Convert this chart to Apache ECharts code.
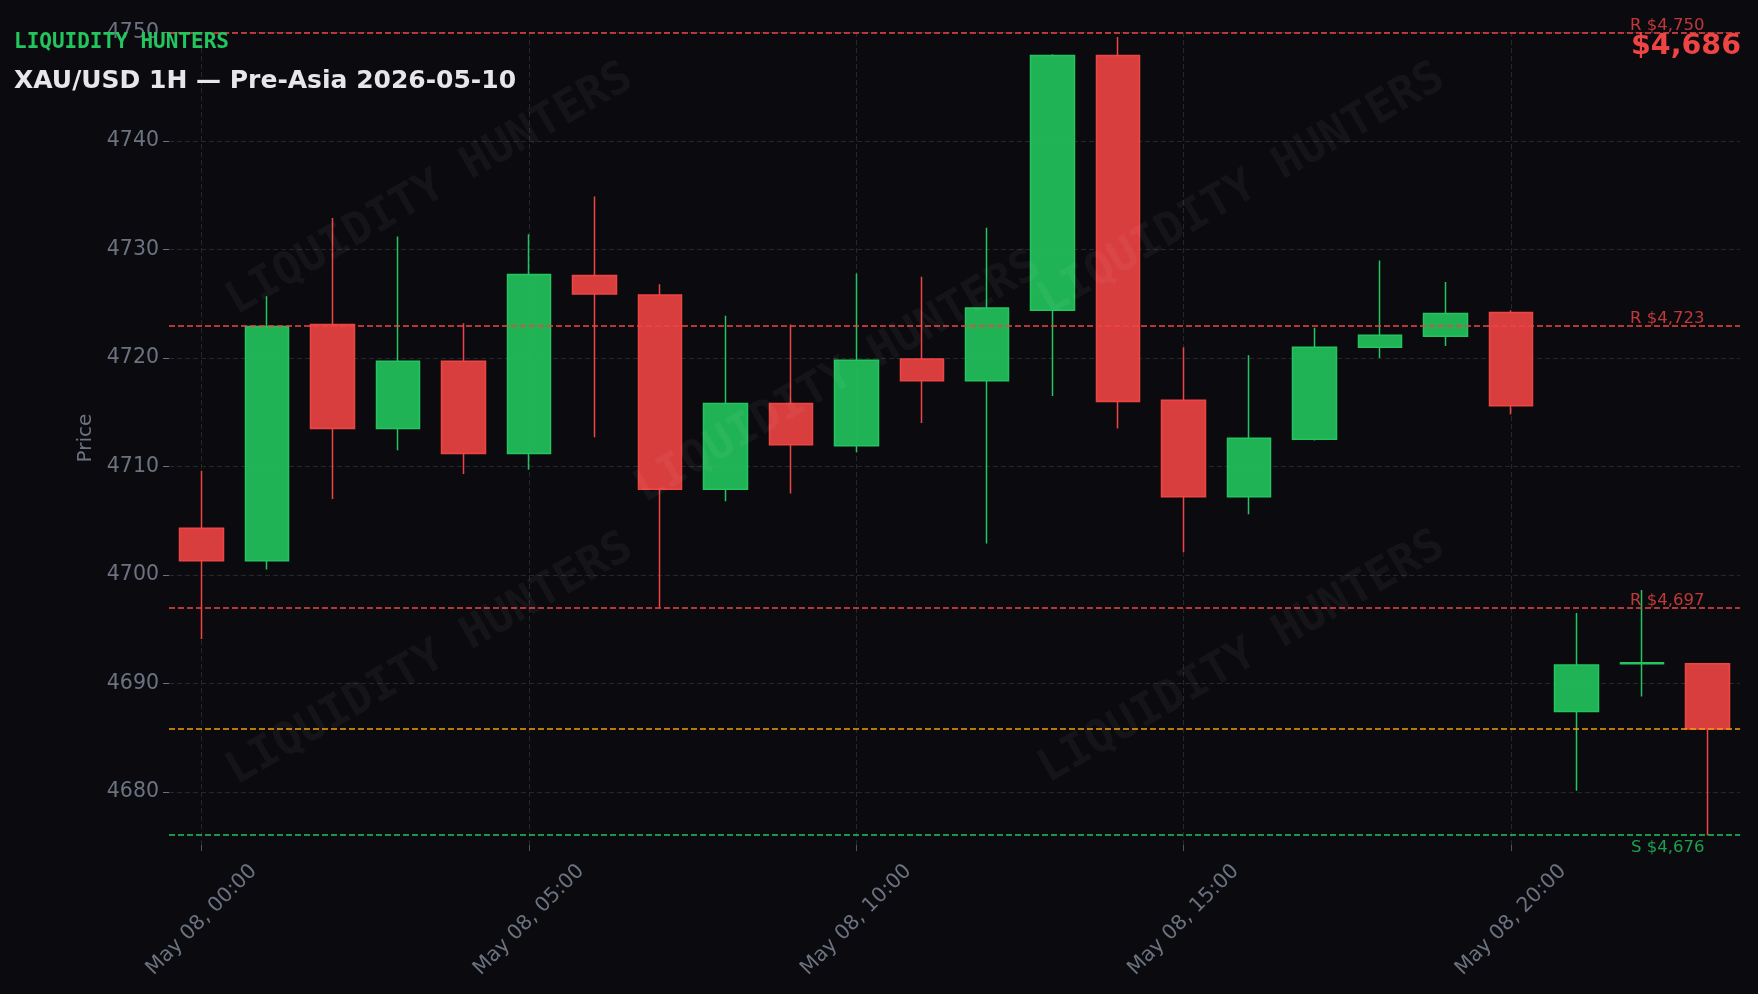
<!DOCTYPE html>
<html>
<head>
<meta charset="utf-8">
<script src="https://cdn.jsdelivr.net/npm/echarts@6.0.0/dist/echarts.min.js"></script>
<style>
html,body{margin:0;padding:0;background:#0b0b0f;}
#chart{width:1758px;height:994px;}
</style>
</head>
<body>
<div id="chart"></div>
<script>
// ---- data ----
const categories = [
  'May 08, 00:00','May 08, 01:00','May 08, 02:00','May 08, 03:00','May 08, 04:00','May 08, 05:00',
  'May 08, 06:00','May 08, 07:00','May 08, 08:00','May 08, 09:00','May 08, 10:00','May 08, 11:00',
  'May 08, 12:00','May 08, 13:00','May 08, 14:00','May 08, 15:00','May 08, 16:00','May 08, 17:00',
  'May 08, 18:00','May 08, 19:00','May 08, 20:00','May 08, 21:00','May 08, 22:00','May 08, 23:00'
];
const gridTicks = ['May 08, 00:00','May 08, 05:00','May 08, 10:00','May 08, 15:00','May 08, 20:00'];
const opens  = [4704.3,4701.3,4723.1,4713.5,4719.7,4711.2,4727.6,4725.8,4707.9,4715.8,4711.9,4719.9,4717.9,4724.4,4747.9,4716.1,4707.2,4712.5,4721.0,4722.0,4724.2,4687.4,4691.8,4691.8];
const closes = [4701.3,4722.9,4713.5,4719.7,4711.2,4727.7,4725.9,4707.9,4715.8,4712.0,4719.8,4717.9,4724.6,4747.9,4716.0,4707.2,4712.6,4721.0,4722.1,4724.1,4715.6,4691.7,4691.9,4685.8];
const lows   = [4694.1,4700.5,4707.0,4711.5,4709.3,4709.7,4712.7,4697.0,4706.8,4707.5,4711.3,4714.0,4702.9,4716.5,4713.5,4702.1,4705.6,4712.4,4720.0,4721.1,4714.8,4680.1,4688.8,4676.0];
const highs  = [4709.6,4725.7,4732.9,4731.2,4723.2,4731.4,4734.9,4726.8,4723.9,4723.1,4727.8,4727.5,4732.0,4748.0,4749.6,4721.0,4720.25,4722.8,4729.0,4727.0,4724.4,4696.5,4698.6,4691.8];
const resistanceLevels = [4750, 4723, 4697];
const supportLevels = [4676];
const lastPrice = 4685.8;
const brand = 'LIQUIDITY HUNTERS';
const chartTitle = 'XAU/USD 1H — Pre-Asia 2026-05-10';

// ---- build ----
const GREEN = '#22c55e', RED = '#ef4444', ORANGE = '#f59e0b', GRAY = '#6b7280', GRID = '#25272e';
const fmt = v => '$' + Math.round(v).toLocaleString('en-US');
const ohlc = opens.map((o, i) => [o, closes[i], lows[i], highs[i]]);

const levelLines = [];
resistanceLevels.forEach(v => levelLines.push({
  yAxis: v,
  lineStyle: {color: RED, type: [6, 3], width: 1.5},
  label: {show: true, formatter: 'R ' + fmt(v), position: 'insideEndTop', distance: -1.5,
          padding: [0, 37, 0, 0], color: 'rgba(239,68,68,0.8)', fontSize: 16.5, fontFamily: 'DejaVu Sans'}
}));
supportLevels.forEach(v => levelLines.push({
  yAxis: v,
  lineStyle: {color: GREEN, type: [6, 3], width: 1.5},
  label: {show: true, formatter: 'S ' + fmt(v), position: 'insideEndBottom', distance: 3.5,
          padding: [0, 32, 0, 0], color: 'rgba(34,197,94,0.8)', fontSize: 16.5, fontFamily: 'DejaVu Sans'}
}));
levelLines.push({yAxis: lastPrice, lineStyle: {color: ORANGE, type: [6, 3], width: 1.5}, label: {show: false}});

const wmPos = [[430,190],[1242,190],[838,378],[430,660],[1242,658]];
const watermarks = wmPos.map(p => ({
  type: 'text', x: p[0], y: p[1], rotation: Math.PI / 6, z: 100, silent: true,
  style: {text: brand, fill: 'rgba(255,255,255,0.045)', font: 'bold 45px "DejaVu Sans Mono"',
          align: 'center', verticalAlign: 'middle', textAlign: 'center', textVerticalAlign: 'middle'}
}));

const chart = echarts.init(document.getElementById('chart'), null, {renderer: 'canvas'});
chart.setOption({
  backgroundColor: '#0b0b0f',
  animation: false,
  textStyle: {fontFamily: 'DejaVu Sans'},
  title: [
    {text: brand, left: 14, top: 32, padding: 0, z: 10,
     textStyle: {fontFamily: 'DejaVu Sans Mono', fontWeight: 'bold', fontSize: 21, lineHeight: 21, color: GREEN}},
    {text: chartTitle, left: 14, top: 69, padding: 0,
     textStyle: {fontFamily: 'DejaVu Sans', fontWeight: 'bold', fontSize: 25, lineHeight: 25, color: '#e5e7eb'}},
    {text: fmt(lastPrice), left: 1631, top: 33, padding: 0,
     textStyle: {fontFamily: 'DejaVu Sans', fontWeight: 'bold', fontSize: 28.5, lineHeight: 28, color: RED}}
  ],
  grid: {left: 169, right: 18, top: 31, bottom: 149},
  xAxis: {
    type: 'category', data: categories, boundaryGap: true,
    axisLine: {show: false},
    axisTick: {show: true, interval: 4, alignWithLabel: true, length: 6, lineStyle: {color: '#4b5563'}},
    axisLabel: {interval: 4, rotate: 45, align: 'center', verticalAlign: 'middle', margin: 75,
                fontSize: 20.5, color: GRAY, fontFamily: 'DejaVu Sans'},
    splitLine: {show: false}
  },
  yAxis: {
    type: 'value', min: 4675.1, max: 4750.15, splitNumber: 7,
    name: 'Price', nameLocation: 'middle', nameGap: 70,
    nameTextStyle: {fontSize: 20, color: GRAY, fontFamily: 'DejaVu Sans'},
    axisLine: {show: false},
    axisTick: {show: true, length: 6, lineStyle: {color: GRAY}},
    axisLabel: {fontSize: 20.5, color: GRAY, margin: 10, fontFamily: 'DejaVu Sans',
                showMinLabel: false, showMaxLabel: false,
                formatter: v => (Math.abs(v - Math.round(v / 10) * 10) < 1e-6 ? String(Math.round(v)) : '')},
    splitLine: {show: true, showMinLine: false, showMaxLine: false, lineStyle: {color: GRID, type: [5, 3], width: 1}}
  },
  graphic: watermarks,
  series: [
    {
      type: 'line', data: [], z: 0, silent: true,
      markLine: {z: 0, silent: true, animation: false, symbol: ['none', 'none'], label: {show: false},
                 lineStyle: {color: GRID, type: [5, 3], width: 1},
                 data: gridTicks.map(c => ({xAxis: c}))}
    },
    {
      type: 'candlestick', z: 2, barWidth: 44, data: ohlc,
      itemStyle: {color: 'rgba(34,197,94,0.9)', color0: 'rgba(239,68,68,0.9)',
                  borderColor: GREEN, borderColor0: RED, borderWidth: 1.5}
    },
    {
      type: 'line', data: [], z: 5, silent: true,
      markLine: {z: 5, silent: true, animation: false, symbol: ['none', 'none'], data: levelLines}
    }
  ]
});
</script>
</body>
</html>
